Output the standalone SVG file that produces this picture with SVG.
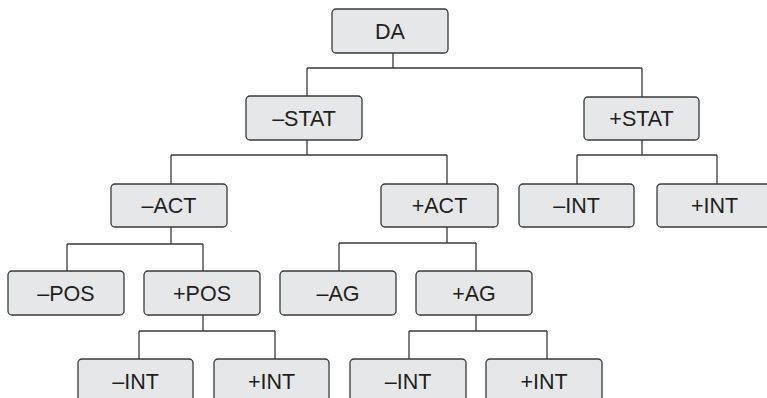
<svg xmlns="http://www.w3.org/2000/svg" width="767" height="398" viewBox="0 0 767 398">
<style>
.n rect{fill:#e6e7e8;stroke:#3a3a3a;stroke-width:1.3}
.n text{font-family:"Liberation Sans",Arial,sans-serif;font-size:21.5px;fill:#231f20;text-anchor:middle}
.c path{fill:none;stroke:#3a3a3a;stroke-width:1.3}
</style>
<rect width="767" height="398" fill="#fff"/>
<g class="c">
<path d="M393 53V68M307 68H642M307 68V96M642 68V97"/>
<path d="M307 140V155M171 155H447M171 155V184M447 155V184"/>
<path d="M642 140V155M577 155H717M577 155V184M717 155V184"/>
<path d="M171 227V244M67 244H203M67 244V271M203 244V271"/>
<path d="M447 227V243M339 243H476M339 243V271M476 243V271"/>
<path d="M203 315V331M139 331H275M139 331V359M275 331V359"/>
<path d="M476 315V331M409 331H547M409 331V359M547 331V359"/>
</g>
<g id="n-da" class="n"><rect x="332" y="9" width="116" height="44" rx="4"/><text x="390" y="38.5">DA</text></g>
<g id="n-mstat" class="n"><rect x="246" y="96" width="116" height="44" rx="4"/><text x="304" y="125.5">–STAT</text></g>
<g id="n-pstat" class="n"><rect x="584" y="97" width="115" height="43" rx="4"/><text x="641.5" y="126">+STAT</text></g>
<g id="n-mint1" class="n"><rect x="519" y="184" width="115" height="43" rx="4"/><text x="576.5" y="213">–INT</text></g>
<g id="n-pint1" class="n"><rect x="657" y="184" width="115" height="43" rx="4"/><text x="714.5" y="213">+INT</text></g>
<g id="n-mact" class="n"><rect x="111" y="184" width="116" height="43" rx="4"/><text x="169" y="213">–ACT</text></g>
<g id="n-pact" class="n"><rect x="381" y="184" width="117" height="43" rx="4"/><text x="439.5" y="213">+ACT</text></g>
<g id="n-mpos" class="n"><rect x="8" y="271" width="116" height="44" rx="4"/><text x="66" y="300.5">–POS</text></g>
<g id="n-ppos" class="n"><rect x="144" y="271" width="116" height="44" rx="4"/><text x="202" y="300.5">+POS</text></g>
<g id="n-mag" class="n"><rect x="280" y="271" width="116" height="44" rx="4"/><text x="338" y="300.5">–AG</text></g>
<g id="n-pag" class="n"><rect x="416" y="271" width="116" height="44" rx="4"/><text x="474" y="300.5">+AG</text></g>
<g id="n-mint2" class="n"><rect x="78" y="359" width="115" height="44" rx="4"/><text x="135.5" y="388.5">–INT</text></g>
<g id="n-pint2" class="n"><rect x="214" y="359" width="115" height="44" rx="4"/><text x="271.5" y="388.5">+INT</text></g>
<g id="n-mint3" class="n"><rect x="350" y="359" width="116" height="44" rx="4"/><text x="408" y="388.5">–INT</text></g>
<g id="n-pint3" class="n"><rect x="486" y="359" width="116" height="44" rx="4"/><text x="544" y="388.5">+INT</text></g>
</svg>
